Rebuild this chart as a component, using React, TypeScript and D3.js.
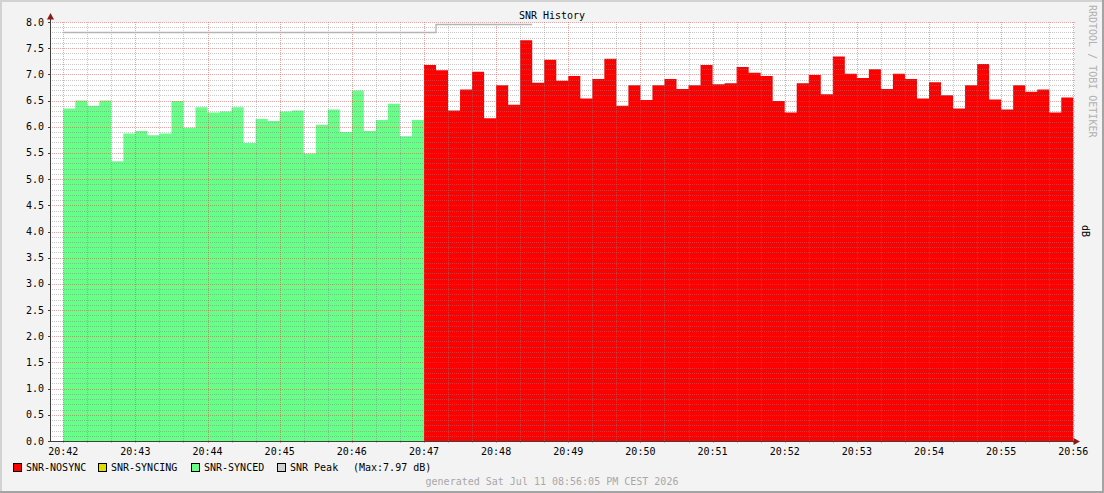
import { useEffect, useRef } from 'react';
import * as d3 from 'd3';

// 10 second steps starting at 20:42:00
const startTime = new Date(2026, 6, 11, 20, 42, 0);
const stepSeconds = 10;

const syncedValues = [
  6.35, 6.5, 6.4, 6.5, 5.34, 5.87, 5.92, 5.84, 5.87, 6.49, 5.98, 6.37, 6.27, 6.29, 6.37,
  5.69, 6.15, 6.11, 6.29, 6.31, 5.49, 6.04, 6.33, 5.9, 6.69, 5.92, 6.13, 6.44, 5.82, 6.13,
];
const nosyncValues = [
  7.18, 7.08, 6.31, 6.71, 7.05, 6.16, 6.79, 6.42, 7.65, 6.84, 7.28, 6.88, 6.97, 6.54, 6.91,
  7.3, 6.4, 6.79, 6.51, 6.79, 6.91, 6.72, 6.79, 7.18, 6.81, 6.83, 7.14, 7.03, 6.97, 6.49,
  6.27, 6.83, 6.99, 6.62, 7.34, 7.01, 6.93, 7.1, 6.72, 7.01, 6.91, 6.54, 6.85, 6.6, 6.35,
  6.79, 7.2, 6.52, 6.33, 6.79, 6.67, 6.71, 6.27, 6.56,
];
const peakValues = [
  7.81, 7.81, 7.81, 7.81, 7.81, 7.81, 7.81, 7.81, 7.81, 7.81, 7.81, 7.81, 7.81, 7.81, 7.81,
  7.81, 7.81, 7.81, 7.81, 7.81, 7.81, 7.81, 7.81, 7.81, 7.81, 7.81, 7.81, 7.81, 7.81, 7.81,
  7.81, 7.97, 7.97, 7.97, 7.97, 7.97, 7.97, 7.97, 7.97,
];
const yTicks = [0, 0.5, 1, 1.5, 2, 2.5, 3, 3.5, 4, 4.5, 5, 5.5, 6, 6.5, 7, 7.5, 8];
const timeLabels = [
  '20:42', '20:43', '20:44', '20:45', '20:46', '20:47', '20:48', '20:49',
  '20:50', '20:51', '20:52', '20:53', '20:54', '20:55', '20:56',
];
const legendNames = ['SNR-NOSYNC', 'SNR-SYNCING', 'SNR-SYNCED', 'SNR Peak'];
const legendColors = ['#ff0000', '#dddd00', '#66ff88', '#d0d0d0'];

const FONT = '"DejaVu Sans Mono", monospace';

const App = () => {
  const svgRef = useRef<SVGSVGElement>(null!);

  useEffect(() => {
    const width = 1104;
    const height = 493;
    const plot = { left: 50, right: 1074, top: 22, bottom: 441 };
    const t = (i: number) => new Date(startTime.getTime() + i * stepSeconds * 1000);

    const xScale = d3
      .scaleTime()
      .domain([new Date(startTime.getTime() - 11 * 1000), t(84)])
      .range([plot.left, 1073.3]);
    const yScale = d3.scaleLinear().domain([0, 8]).range([plot.bottom, plot.top]);

    const svg = d3.select(svgRef.current);
    svg.attr('width', width).attr('height', height);

    svg.append('rect').attr('width', width).attr('height', height).attr('fill', '#f3f3f3');
    // frame shading
    svg.append('rect').attr('x', 0).attr('y', 0).attr('width', width).attr('height', 2).attr('fill', '#d2d2d2');
    svg.append('rect').attr('x', 0).attr('y', 0).attr('width', 2).attr('height', height).attr('fill', '#d2d2d2');
    svg.append('rect').attr('x', 0).attr('y', height - 2).attr('width', width).attr('height', 2).attr('fill', '#a4a4a4');
    svg.append('rect').attr('x', width - 2).attr('y', 0).attr('width', 2).attr('height', height).attr('fill', '#a4a4a4');

    svg
      .append('rect')
      .attr('x', plot.left)
      .attr('y', plot.top)
      .attr('width', plot.right - plot.left)
      .attr('height', plot.bottom - plot.top)
      .attr('fill', '#ffffff');

    type Pt = { t: Date; v: number };
    const toSteps = (vals: number[], offset: number): Pt[] => {
      const pts = vals.map((v, i) => ({ t: t(offset + i), v }));
      pts.push({ t: t(offset + vals.length), v: vals[vals.length - 1] });
      return pts;
    };

    const area = d3
      .area<Pt>()
      .curve(d3.curveStepAfter)
      .x(d => xScale(d.t))
      .y0(yScale(0))
      .y1(d => yScale(d.v));

    svg
      .append('path')
      .attr('d', area(toSteps(syncedValues, 0)))
      .attr('fill', '#66ff88');
    svg
      .append('path')
      .attr('d', area(toSteps(nosyncValues, syncedValues.length)))
      .attr('fill', '#ff0000');

    // grid
    const grid = svg.append('g').attr('shape-rendering', 'crispEdges');
    const minorY = d3.range(1, 81).filter(k => k % 5 !== 0).map(k => k / 10);
    grid
      .selectAll('line.minor-y')
      .data(minorY)
      .enter()
      .append('line')
      .attr('x1', plot.left)
      .attr('x2', plot.right + 2)
      .attr('y1', d => Math.round(yScale(d)) + 0.5)
      .attr('y2', d => Math.round(yScale(d)) + 0.5)
      .attr('stroke', 'rgba(130,130,130,0.45)')
      .attr('stroke-dasharray', '1,1');
    const minorX = d3.timeSecond
      .every(20)!
      .range(xScale.domain()[0], xScale.domain()[1])
      .filter(d => d.getSeconds() !== 0);
    grid
      .selectAll('line.minor-x')
      .data(minorX)
      .enter()
      .append('line')
      .attr('x1', d => Math.round(xScale(d)) + 0.5)
      .attr('x2', d => Math.round(xScale(d)) + 0.5)
      .attr('y1', plot.top)
      .attr('y2', plot.bottom + 2)
      .attr('stroke', 'rgba(130,130,130,0.45)')
      .attr('stroke-dasharray', '1,1');
    grid
      .selectAll('line.major-y')
      .data(yTicks.slice(1))
      .enter()
      .append('line')
      .attr('x1', plot.left - 2)
      .attr('x2', plot.right + 2)
      .attr('y1', d => Math.round(yScale(d)) + 0.5)
      .attr('y2', d => Math.round(yScale(d)) + 0.5)
      .attr('stroke', 'rgba(225,70,70,0.5)')
      .attr('stroke-dasharray', '1,1');
    grid
      .selectAll('line.major-x')
      .data(timeLabels)
      .enter()
      .append('line')
      .attr('x1', (_, i) => Math.round(xScale(t(i * 6))) + 0.5)
      .attr('x2', (_, i) => Math.round(xScale(t(i * 6))) + 0.5)
      .attr('y1', plot.top)
      .attr('y2', plot.bottom + 3)
      .attr('stroke', 'rgba(225,70,70,0.5)')
      .attr('stroke-dasharray', '1,1');

    // peak line
    const line = d3
      .line<Pt>()
      .curve(d3.curveStepAfter)
      .x(d => xScale(d.t))
      .y(d => Math.round(yScale(d.v)) + 0.5);
    svg
      .append('path')
      .attr('d', line(toSteps(peakValues, 0)))
      .attr('fill', 'none')
      .attr('stroke', '#b4b4b4')
      .attr('stroke-width', 1.3);

    // axes
    const axis = svg.append('g').attr('shape-rendering', 'crispEdges');
    axis
      .append('line')
      .attr('x1', plot.left + 0.5)
      .attr('x2', plot.left + 0.5)
      .attr('y1', plot.bottom + 1)
      .attr('y2', 18)
      .attr('stroke', '#404040');
    axis
      .append('line')
      .attr('x1', plot.left)
      .attr('x2', plot.right + 2)
      .attr('y1', plot.bottom + 0.5)
      .attr('y2', plot.bottom + 0.5)
      .attr('stroke', '#404040');
    axis
      .selectAll('line.ytick')
      .data(yTicks)
      .enter()
      .append('line')
      .attr('x1', plot.left - 2)
      .attr('x2', plot.left)
      .attr('y1', d => Math.round(yScale(d)) + 0.5)
      .attr('y2', d => Math.round(yScale(d)) + 0.5)
      .attr('stroke', '#404040');
    svg
      .append('path')
      .attr('d', `M${plot.left + 0.5},13 L${plot.left - 3},19.5 L${plot.left + 4},19.5 Z`)
      .attr('fill', '#8b1a1a');
    svg
      .append('path')
      .attr('d', `M${plot.right + 6},${plot.bottom + 0.5} L${plot.right - 0.5},${plot.bottom - 3} L${plot.right - 0.5},${plot.bottom + 4} Z`)
      .attr('fill', '#8b1a1a');

    const text = svg.append('g').attr('font-family', FONT).attr('font-size', 10);
    text
      .selectAll('text.ylab')
      .data(yTicks)
      .enter()
      .append('text')
      .attr('x', 44)
      .attr('y', d => yScale(d) + 3.5)
      .attr('text-anchor', 'end')
      .text(d => d3.format('.1f')(d));
    text
      .selectAll('text.xlab')
      .data(timeLabels)
      .enter()
      .append('text')
      .attr('x', (_, i) => xScale(t(i * 6)))
      .attr('y', 455)
      .attr('text-anchor', 'middle')
      .text(d => d);

    text
      .append('text')
      .attr('x', 552)
      .attr('y', 19)
      .attr('text-anchor', 'middle')
      .text('SNR History');

    text
      .append('text')
      .attr('transform', 'translate(1089,5) rotate(90)')
      .attr('fill', '#b0b0b0')
      .text('RRDTOOL / TOBI OETIKER');
    text
      .append('text')
      .attr('transform', 'translate(1082,225) rotate(90)')
      .text('dB');

    // legend
    const legendX = [13, 98, 191, 277];
    const legend = text
      .selectAll('g.legend')
      .data(legendNames)
      .enter()
      .append('g')
      .attr('transform', (_, i) => `translate(${legendX[i]},463)`);
    legend
      .append('rect')
      .attr('x', 0.5)
      .attr('y', 0.5)
      .attr('width', 8)
      .attr('height', 8)
      .attr('fill', (_, i) => legendColors[i])
      .attr('stroke', '#000');
    legend
      .append('text')
      .attr('x', 13)
      .attr('y', 8)
      .text(d => d);
    text.append('text').attr('x', 353).attr('y', 471).text('(Max:7.97 dB)');

    text
      .append('text')
      .attr('x', 552)
      .attr('y', 485)
      .attr('text-anchor', 'middle')
      .attr('fill', '#a8a8a8')
      .text('generated Sat Jul 11 08:56:05 PM CEST 2026');

    return () => {
      svgRef.current.innerHTML = '';
    };
  }, []);

  return <svg ref={svgRef} style={{ position: 'absolute', left: 0, top: 0 }}></svg>;
};

export default App;
